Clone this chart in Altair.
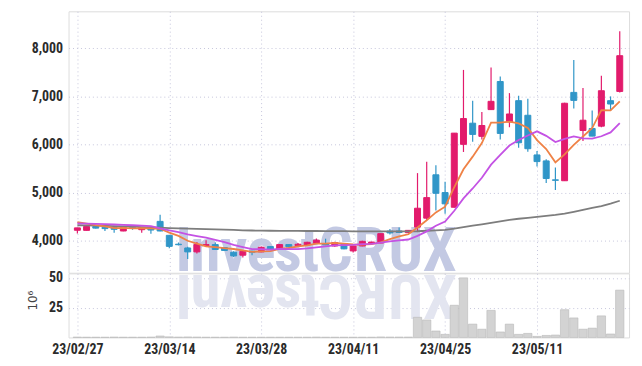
import altair as alt
import pandas as pd

# ---- data (trading days 2023-02-27 .. 2023-05-24) ----
dates = ["02/27","02/28","03/02","03/03","03/06","03/07","03/08","03/09","03/10","03/13",
         "03/14","03/15","03/16","03/17","03/20","03/21","03/22","03/23","03/24","03/27",
         "03/28","03/29","03/30","03/31","04/03","04/04","04/05","04/06","04/07","04/10",
         "04/11","04/12","04/13","04/14","04/17","04/18","04/19","04/20","04/21","04/24",
         "04/25","04/26","04/27","04/28","05/02","05/03","05/04","05/08","05/09","05/10",
         "05/11","05/12","05/15","05/16","05/17","05/18","05/19","05/22","05/23","05/24"]
opens = [4215,4213,4295,4275,4275,4200,4275,4227,4275,4400,
         4110,3925,3847,3765,3897,3917,3855,3758,3696,3779,
         3765,3876,3820,3917,3897,3910,3945,3930,3888,3925,
         3785,3888,3940,3950,4198,4200,4165,4281,4467,5370,
         5000,4694,6004,6444,6170,6727,7312,6471,6913,6609,
         5783,5659,5265,5246,7085,6293,6334,6382,6913,7105]
highs = [4270,4305,4300,4280,4280,4280,4280,4280,4280,4537,
         4115,3960,3870,3970,4005,3960,3860,3780,3785,3790,
         3870,3885,3930,3920,3950,3975,4045,4040,3975,3935,
         3895,3995,3975,4150,4240,4275,4220,5405,5640,5570,
         5225,6240,7553,6913,6677,7601,7415,7070,7016,6954,
         5865,5694,5520,6870,7760,7174,6706,7429,7002,8359]
lows = [4150,4210,4250,4200,4165,4195,4225,4165,4145,4195,
        3840,3900,3615,3730,3890,3810,3790,3660,3650,3695,
        3760,3820,3810,3860,3880,3905,3940,3905,3870,3820,
        3750,3880,3930,3945,4125,4160,4160,4178,4430,4625,
        4560,4690,5845,6058,6107,6720,6107,6360,5934,5851,
        5541,5198,5054,5240,6748,6072,6170,6361,6706,7085]
closes = [4265,4295,4260,4250,4235,4275,4262,4275,4220,4200,
          3880,3915,3765,3917,3917,3815,3795,3682,3779,3758,
          3862,3826,3917,3868,3924,3965,4010,3910,3960,3828,
          3888,3985,3970,4145,4160,4170,4213,4674,4895,4985,
          4765,6237,6541,6210,6396,6899,6231,6636,6037,5913,
          5645,5293,5255,6859,6919,6506,6175,7120,6843,7849]
volumes = [0.3,0.2,0.2,0.2,0.3,0.2,0.2,0.2,0.3,1.2,
           0.5,0.3,0.4,0.3,0.2,0.2,0.2,0.3,0.2,0.2,
           0.2,0.2,0.2,0.2,0.2,0.2,0.3,0.2,0.2,0.2,
           0.2,0.2,0.2,0.4,0.3,0.3,0.3,16.9,14.7,5.4,
           2.6,27.0,50.0,11.2,6.9,22.7,4.6,11.2,2.6,3.4,
           0.9,1.7,2.0,23.3,16.4,6.9,7.8,18.1,2.9,39.7]
ma60 = [4320,4315,4310,4305,4300,4295,4290,4282,4275,4268,
        4262,4256,4250,4245,4240,4235,4228,4222,4215,4210,
        4207,4205,4203,4202,4201,4200,4200,4199,4198,4196,
        4194,4192,4190,4190,4190,4190,4192,4195,4205,4215,
        4225,4250,4280,4310,4340,4370,4400,4430,4455,4475,
        4495,4515,4535,4560,4600,4640,4680,4720,4770,4830]
ma5_head = [4385, 4355, 4320, 4295]
ma10_head = [4360, 4355, 4350, 4345, 4335, 4328, 4320, 4312, 4300]

price_ticks = [4000, 5000, 6000, 7000, 8000]
vol_ticks = [25, 50]
date_ticks = [0, 10, 20, 30, 40, 50]

# ---- styling ----
PINK = "#e21b6c"
BLUE = "#3096c8"
ORANGE = "#ef8246"
PURPLE = "#c452e4"
GRAY = "#7d7d7d"
GRID = "#c6c6dc"
FONT = "Roboto Condensed, Liberation Sans Narrow, DejaVu Sans Condensed, sans-serif"
W = 564.7
H_PRICE = 263.4
H_VOL = 64.6
XDOM = [-0.42, 59.47]

df = pd.DataFrame({"i": list(range(len(dates))), "date": dates, "open": opens,
                   "high": highs, "low": lows, "close": closes, "vol": volumes})
c = pd.Series(closes, dtype=float)
ma5 = c.rolling(5).mean()
ma5.iloc[:4] = ma5_head
ma10 = c.rolling(10).mean()
ma10.iloc[:9] = ma10_head
df["ma5"] = ma5.values
df["ma10"] = ma10.values
df["ma60"] = ma60

xs = alt.Scale(domain=XDOM, nice=False, zero=False)
ys = alt.Scale(domain=[3331, 8773], nice=False, zero=False)
vs = alt.Scale(domain=[0, 53.8], nice=False, zero=True)

label_js = "[" + ",".join("'23/%s'" % d for d in dates) + "][datum.value]"

x_price_axis = alt.Axis(values=date_ticks, labels=False, ticks=False, domain=False,
                        grid=True, gridColor=GRID, gridDash=[1, 3], title=None)
x_vol_axis = alt.Axis(values=date_ticks, labelExpr=label_js, ticks=False, domain=False,
                      grid=True, gridColor=GRID, gridDash=[1, 3], title=None,
                      labelFont=FONT, labelFontSize=14, labelFontWeight="bold",
                      labelColor="#2b2b2b", labelPadding=5, labelFlush=False)
y_price_axis = alt.Axis(values=price_ticks, format=",d", ticks=False, domain=False,
                        grid=True, gridColor=GRID, gridDash=[1, 3], title=None,
                        labelFont=FONT, labelFontSize=14, labelFontWeight="bold",
                        labelColor="#2b2b2b", labelPadding=6, minExtent=60, maxExtent=60)
y_vol_axis = alt.Axis(values=vol_ticks, ticks=False, domain=False,
                      grid=True, gridColor=GRID, gridDash=[1, 3], title="10⁶",
                      titleX=-36, titleY=27, titleAngle=-90, titleAlign="center",
                      titleBaseline="middle", titleFont="DejaVu Sans", titleFontSize=12,
                      titleFontWeight="normal", titleColor="#444",
                      labelFont=FONT, labelFontSize=14, labelFontWeight="bold",
                      labelColor="#2b2b2b", labelPadding=6, minExtent=60, maxExtent=60)

# ---- watermark (decoration) ----
wm_chars = list("InvestCRUX")
wm_adv = [278, 611, 556, 556, 556, 333, 722, 722, 722, 667]
FS = 61
x0 = 106.0
cum = 0.0
wm_rows = []
for ch, a in zip(wm_chars, wm_adv):
    adv = a * 0.82 * FS / 1000.0
    px = x0 + cum + adv / 2
    wm_rows.append({"ch": ch, "xd": XDOM[0] + px / W * (XDOM[1] - XDOM[0])})
    cum += adv
wm = pd.DataFrame(wm_rows)

wm_main = alt.Chart(wm).mark_text(font=FONT, fontSize=FS, fontWeight="bold",
                                  color="#c3c9e3", align="center", baseline="alphabetic").encode(
    x=alt.X("xd:Q", scale=xs, axis=x_price_axis), y=alt.value(262), text="ch:N")

updown = "datum.close >= datum.open"
col = alt.condition(updown, alt.value(PINK), alt.value(BLUE))

base = alt.Chart(df)
wicks = base.mark_rule(strokeWidth=1.2).encode(
    x=alt.X("i:Q", scale=xs, axis=x_price_axis),
    y=alt.Y("low:Q", scale=ys, axis=y_price_axis), y2="high:Q", color=col)
bodies = base.mark_bar(size=6, strokeWidth=1).encode(
    x=alt.X("i:Q", scale=xs), y=alt.Y("open:Q", scale=ys), y2="close:Q",
    color=col, stroke=col)
l60 = base.mark_line(color=GRAY, strokeWidth=1.8).encode(
    x=alt.X("i:Q", scale=xs), y=alt.Y("ma60:Q", scale=ys))
l5 = base.mark_line(color=ORANGE, strokeWidth=1.8).encode(
    x=alt.X("i:Q", scale=xs), y=alt.Y("ma5:Q", scale=ys))
l10 = base.mark_line(color=PURPLE, strokeWidth=1.8).encode(
    x=alt.X("i:Q", scale=xs), y=alt.Y("ma10:Q", scale=ys))

price = alt.layer(wm_main, wicks, bodies, l60, l5, l10).properties(width=W, height=H_PRICE)

wm_refl = alt.Chart(wm).mark_text(font=FONT, fontSize=FS, fontWeight="bold",
                                  color="#e3e5f0", align="center", baseline="alphabetic",
                                  angle=180).encode(
    x=alt.X("xd:Q", scale=xs, axis=x_vol_axis), y=alt.value(1.5), text="ch:N")
vbars = base.mark_bar(size=8.4, color="#d3d3d3", stroke="#b8b8b8", strokeWidth=0.6).encode(
    x=alt.X("i:Q", scale=xs, axis=x_vol_axis),
    y=alt.Y("vol:Q", scale=vs, axis=y_vol_axis))
vol = alt.layer(wm_refl, vbars).properties(width=W, height=H_VOL)

chart = alt.vconcat(price, vol, spacing=0, bounds="flush").properties(
    padding={"left": 0, "top": 1, "right": 4, "bottom": 4}
).configure_view(stroke="#d2d2da", strokeWidth=1).configure(background="white")

chart.save("out.html", embed_options={"renderer": "svg", "actions": False})
